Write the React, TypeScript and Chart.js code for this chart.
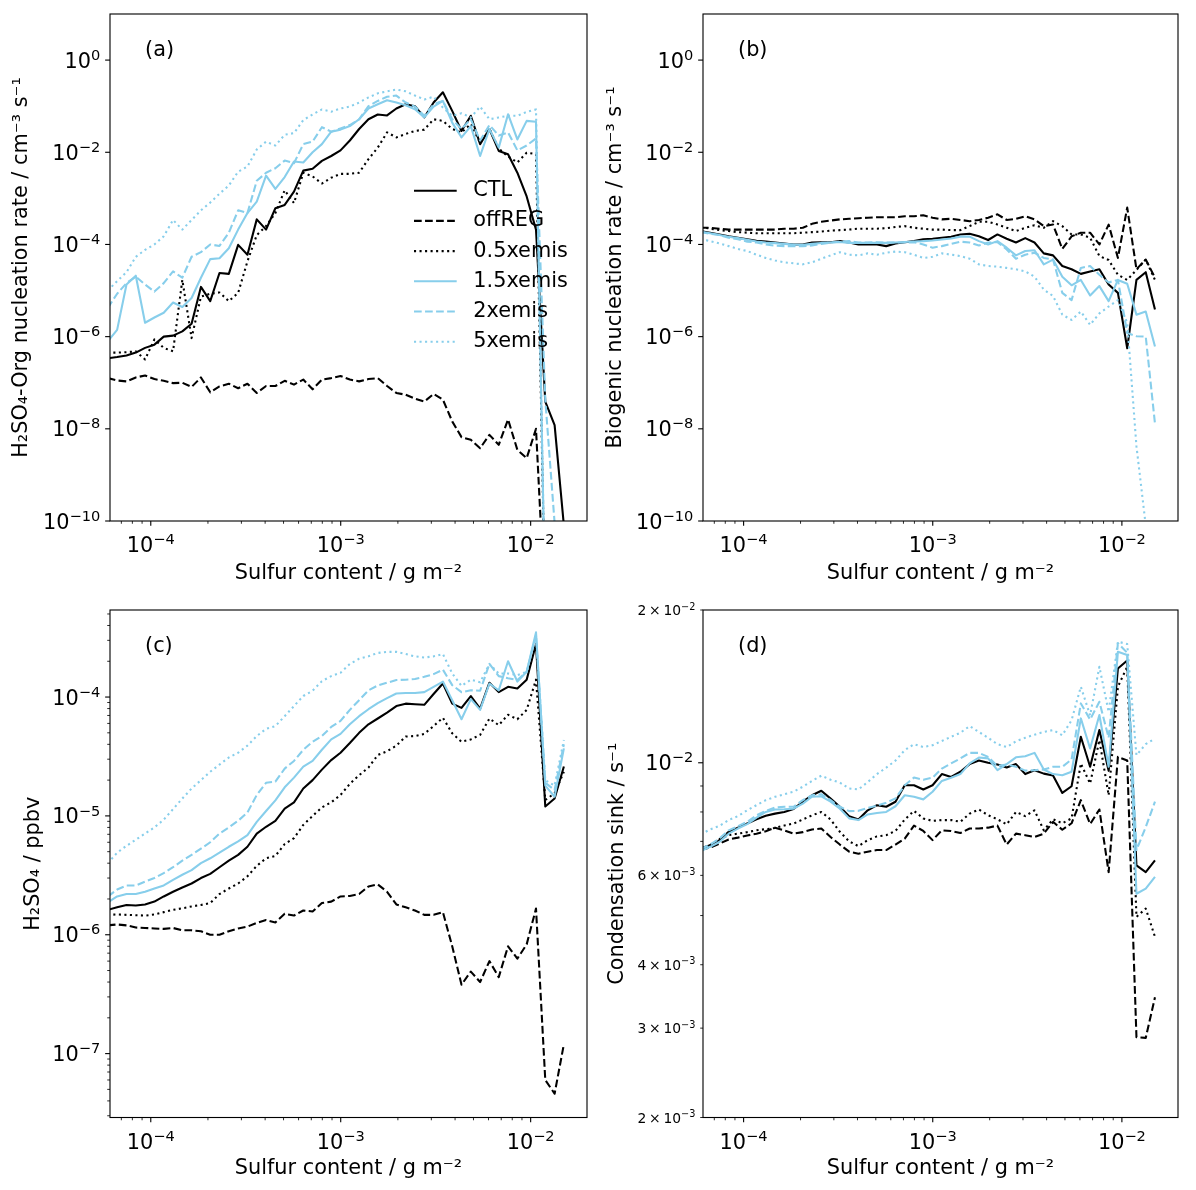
import React, { useEffect, useRef } from 'react';
import { Chart, registerables } from 'chart.js';

Chart.register(...registerables);

// ---------- styling constants ----------
const FONT_FAMILY = "'DejaVu Sans', 'Liberation Sans', sans-serif";
const PX = 100 / 72; // points -> pixels (100 dpi figure)
const FS = 15 * PX;
const FS_SMALL = 10 * PX;
const LW = 1.5 * PX;
const SKYBLUE = '#87CEEB';
const BLACK = '#000000';
const DASHED = [3.7 * LW, 1.6 * LW];
const DOTTED = [1 * LW, 1.65 * LW];

// ---------- data ----------
const seriesNames = ['CTL', 'offREG', '0.5xemis', '1.5xemis', '2xemis', '5xemis'];
const seriesColors = [BLACK, BLACK, BLACK, SKYBLUE, SKYBLUE, SKYBLUE];
const seriesDashes: number[][] = [[], DASHED, DOTTED, [], DASHED, DOTTED];

const sulfurContent = [
  5.94e-5, 6.65e-5, 7.45e-5, 8.34e-5, 9.33e-5, 1.045e-4, 1.17e-4, 1.31e-4, 1.466e-4, 1.64e-4,
  1.837e-4, 2.056e-4, 2.3e-4, 2.576e-4, 2.884e-4, 3.228e-4, 3.614e-4, 4.046e-4, 4.529e-4, 5.07e-4,
  5.675e-4, 6.353e-4, 7.112e-4, 7.96e-4, 8.913e-4, 9.977e-4, 1.117e-3, 1.25e-3, 1.4e-3, 1.567e-3,
  1.754e-3, 1.963e-3, 2.198e-3, 2.46e-3, 2.754e-3, 3.083e-3, 3.451e-3, 3.864e-3, 4.325e-3, 4.842e-3,
  5.42e-3, 6.067e-3, 6.792e-3, 7.603e-3, 8.511e-3, 9.528e-3, 1.067e-2, 1.194e-2, 1.337e-2, 1.496e-2,
];

// (a) H2SO4-Org nucleation rate
const nucA_CTL = [
  3.4e-7, 3.6e-7, 3.9e-7, 4.5e-7, 5.7e-7, 6.7e-7, 1.0e-6, 1.05e-6, 1.3e-6, 1.9e-6,
  1.2e-5, 5.9e-6, 2.4e-5, 2.3e-5, 9.8e-5, 6.0e-5, 3.5e-4, 2.1e-4, 6.1e-4, 7.2e-4,
  1.4e-3, 4.0e-3, 4.4e-3, 6.5e-3, 8.3e-3, 1.1e-2, 1.8e-2, 3.2e-2, 5.2e-2, 6.6e-2,
  6.3e-2, 8.9e-2, 1.1e-1, 1.0e-1, 5.7e-2, 1.2e-1, 2.0e-1, 7.9e-2, 2.9e-2, 6.2e-2,
  1.5e-2, 3.2e-2, 1.07e-2, 9.1e-3, 3.6e-3, 1.1e-3, 2.1e-4, 3.9e-8, 1.2e-8, 8e-11,
];
const nucA_offREG = [
  1.26e-7, 1.12e-7, 1.07e-7, 1.3e-7, 1.44e-7, 1.2e-7, 1.1e-7, 9.8e-8, 1.0e-7, 8.1e-8,
  1.3e-7, 6.2e-8, 8.3e-8, 9.5e-8, 7.6e-8, 9.5e-8, 6.0e-8, 8.5e-8, 8.5e-8, 1.1e-7,
  9.1e-8, 1.17e-7, 7.2e-8, 1.17e-7, 1.26e-7, 1.4e-7, 1.17e-7, 1.07e-7, 1.2e-7, 1.26e-7,
  8.5e-8, 6.0e-8, 5.5e-8, 4.5e-8, 3.9e-8, 5.7e-8, 4.3e-8, 1.45e-8, 6.6e-9, 5.8e-9,
  3.8e-9, 7.4e-9, 4.5e-9, 1.6e-8, 3.5e-9, 2.3e-9, 1.0e-8, 1e-12, 1e-12, 1e-12,
];
const nucA_05x = [
  4.5e-7, 4.5e-7, 4.6e-7, 4.8e-7, 3.2e-7, 8.7e-7, 5.7e-7, 4.8e-7, 1.7e-5, 9.3e-7,
  7.4e-6, 8.5e-6, 9.1e-6, 5.9e-6, 8.9e-6, 4.3e-5, 1.6e-4, 2.5e-4, 4.8e-4, 1.5e-3,
  7.9e-4, 3.6e-3, 3.0e-3, 2.1e-3, 2.8e-3, 3.4e-3, 3.4e-3, 3.6e-3, 7.1e-3, 1.26e-2,
  2.7e-2, 2.1e-2, 2.5e-2, 2.9e-2, 3.1e-2, 5.2e-2, 4.8e-2, 3.2e-2, 2.7e-2, 4.1e-2,
  1.6e-2, 3.2e-2, 1.2e-2, 8.1e-3, 6.0e-3, 9.8e-3, 9.1e-3, 1e-12, 1e-12, 1e-12,
];
const nucA_15x = [
  7.9e-7, 1.4e-6, 1.35e-5, 2.1e-5, 2.0e-6, 2.6e-6, 3.3e-6, 5.5e-6, 4.4e-6, 6.9e-6,
  1.9e-5, 4.8e-5, 5.0e-5, 8.3e-5, 2.1e-4, 4.8e-4, 8.5e-4, 3.1e-3, 1.6e-3, 2.9e-3,
  6.3e-3, 6.0e-3, 1.0e-2, 1.5e-2, 2.8e-2, 3.1e-2, 3.7e-2, 5.2e-2, 8.9e-2, 1.1e-1,
  1.35e-1, 1.2e-1, 1.05e-1, 8.6e-2, 5.7e-2, 9.8e-2, 1.3e-1, 4.4e-2, 2.1e-2, 3.7e-2,
  8.3e-3, 3.2e-2, 1.26e-2, 6.7e-2, 1.9e-2, 4.8e-2, 4.6e-2, 1e-12, 1e-12, 1e-12,
];
const nucA_2x = [
  4.2e-6, 8.5e-6, 1.45e-5, 2.0e-5, 1.35e-5, 9.5e-6, 1.45e-5, 2.6e-5, 1.9e-5, 5.4e-5,
  6.8e-5, 1.0e-4, 9.3e-5, 1.8e-4, 5.5e-4, 4.8e-4, 2.4e-3, 3.6e-3, 4.5e-3, 6.6e-3,
  5.8e-3, 1.5e-2, 1.7e-2, 3.5e-2, 2.8e-2, 3.3e-2, 3.9e-2, 5.2e-2, 1.0e-1, 1.3e-1,
  1.6e-1, 1.7e-1, 1.2e-1, 9.8e-2, 6.2e-2, 1.1e-1, 1.3e-1, 5.2e-2, 3.2e-2, 5.2e-2,
  1.8e-2, 3.9e-2, 2.3e-2, 2.7e-2, 1.1e-2, 1.4e-2, 2.0e-2, 4.3e-8, 9e-11, 1e-12,
];
const nucA_5x = [
  1.0e-5, 1.6e-5, 2.5e-5, 5.4e-5, 7.6e-5, 1.0e-4, 1.5e-4, 3.4e-4, 2.1e-4, 3.4e-4,
  5.5e-4, 8.1e-4, 1.26e-3, 1.9e-3, 3.8e-3, 4.9e-3, 1.15e-2, 1.7e-2, 1.4e-2, 2.4e-2,
  2.6e-2, 5.0e-2, 6.6e-2, 8.5e-2, 7.6e-2, 8.9e-2, 9.8e-2, 1.2e-1, 1.55e-1, 1.9e-1,
  2.1e-1, 2.3e-1, 2.1e-1, 1.7e-1, 1.4e-1, 1.6e-1, 9.3e-2, 6.2e-2, 7.0e-2, 5.7e-2,
  9.8e-2, 5.2e-2, 5.7e-2, 6.2e-2, 6.2e-2, 7.5e-2, 8.5e-2, 1e-12, 1e-12, 1e-12,
];

// (b) Biogenic nucleation rate
const bioB_CTL = [
  1.95e-4, 1.8e-4, 1.65e-4, 1.5e-4, 1.4e-4, 1.3e-4, 1.2e-4, 1.15e-4, 1.1e-4, 1.05e-4,
  1.0e-4, 1.0e-4, 1.1e-4, 1.12e-4, 1.12e-4, 1.18e-4, 1.1e-4, 1.0e-4, 1.0e-4, 1.0e-4,
  9.2e-5, 1.05e-4, 1.12e-4, 1.18e-4, 1.3e-4, 1.33e-4, 1.4e-4, 1.47e-4, 1.65e-4, 1.7e-4,
  1.5e-4, 1.25e-4, 1.65e-4, 1.33e-4, 1.1e-4, 1.37e-4, 1.1e-4, 6.4e-5, 5.8e-5, 3.4e-5,
  2.9e-5, 2.3e-5, 2.6e-5, 2.9e-5, 1.35e-5, 8.9e-6, 5.6e-7, 1.7e-5, 2.5e-5, 3.9e-6,
];
const bioB_offREG = [
  2.3e-4, 2.3e-4, 2.2e-4, 2.1e-4, 2.1e-4, 2.1e-4, 2.1e-4, 2.1e-4, 2.1e-4, 2.2e-4,
  2.2e-4, 2.3e-4, 2.8e-4, 3.1e-4, 3.3e-4, 3.5e-4, 3.6e-4, 3.7e-4, 3.8e-4, 3.9e-4,
  3.9e-4, 3.9e-4, 4.1e-4, 4.1e-4, 4.3e-4, 3.8e-4, 3.5e-4, 3.6e-4, 3.4e-4, 3.2e-4,
  3.4e-4, 3.8e-4, 4.5e-4, 3.4e-4, 3.6e-4, 4.1e-4, 3.5e-4, 2.5e-4, 2.7e-4, 8.0e-5,
  1.5e-4, 1.8e-4, 1.8e-4, 1.0e-4, 2.7e-4, 5.1e-5, 6.3e-4, 2.9e-5, 4.7e-5, 1.9e-5,
];
const bioB_05x = [
  2.4e-4, 2.2e-4, 2.05e-4, 1.95e-4, 1.85e-4, 1.8e-4, 1.75e-4, 1.75e-4, 1.75e-4, 1.75e-4,
  1.75e-4, 1.8e-4, 1.85e-4, 1.9e-4, 2.0e-4, 2.05e-4, 2.1e-4, 2.2e-4, 2.2e-4, 2.2e-4,
  2.25e-4, 2.4e-4, 2.5e-4, 2.3e-4, 2.2e-4, 2.1e-4, 2.1e-4, 2.05e-4, 2.05e-4, 2.5e-4,
  3.1e-4, 3.1e-4, 2.7e-4, 2.3e-4, 1.95e-4, 2.3e-4, 2.6e-4, 2.3e-4, 3.2e-4, 2.5e-4,
  1.65e-4, 1.65e-4, 1.4e-4, 5.6e-5, 4.6e-5, 2.2e-5, 1.7e-5, 2.8e-5, 4.7e-5, 1.7e-5,
];
const bioB_15x = [
  1.9e-4, 1.75e-4, 1.6e-4, 1.47e-4, 1.37e-4, 1.27e-4, 1.16e-4, 1.1e-4, 1.07e-4, 1.03e-4,
  1.0e-4, 9.8e-5, 1.03e-4, 1.08e-4, 1.1e-4, 1.13e-4, 1.08e-4, 1.08e-4, 1.08e-4, 1.08e-4,
  1.08e-4, 1.1e-4, 1.13e-4, 1.16e-4, 1.18e-4, 1.22e-4, 1.28e-4, 1.35e-4, 1.48e-4, 1.48e-4,
  1.18e-4, 1.0e-4, 1.18e-4, 8.5e-5, 5.8e-5, 7.2e-5, 7.5e-5, 3.7e-5, 4.7e-5, 2.0e-5,
  1.3e-5, 1.7e-5, 7.8e-6, 1.25e-5, 5.9e-6, 1.7e-5, 1.4e-5, 3.0e-6, 3.5e-6, 6.1e-7,
];
const bioB_2x = [
  1.85e-4, 1.7e-4, 1.6e-4, 1.4e-4, 1.3e-4, 1.15e-4, 1.1e-4, 1.0e-4, 9.4e-5, 9.2e-5,
  9.2e-5, 9.2e-5, 9.5e-5, 1.03e-4, 1.1e-4, 1.15e-4, 1.18e-4, 1.1e-4, 1.1e-4, 1.12e-4,
  1.1e-4, 1.1e-4, 1.1e-4, 1.12e-4, 1.0e-4, 8.5e-5, 9.2e-5, 1.03e-4, 1.15e-4, 1.1e-4,
  9.5e-5, 1.1e-4, 1.12e-4, 7.8e-5, 4.9e-5, 6.0e-5, 6.6e-5, 5.1e-5, 4.7e-5, 8.9e-6,
  6.2e-6, 3.1e-5, 3.4e-5, 2.2e-5, 1.5e-5, 1.7e-5, 1.2e-6, 1.02e-6, 1.0e-6, 1.3e-8,
];
const bioB_5x = [
  1.33e-4, 1.18e-4, 1.05e-4, 9.2e-5, 8.0e-5, 7.2e-5, 6.0e-5, 5.1e-5, 4.5e-5, 4.1e-5,
  3.9e-5, 3.7e-5, 4.1e-5, 4.9e-5, 5.8e-5, 6.8e-5, 6.0e-5, 5.8e-5, 6.4e-5, 6.0e-5,
  6.6e-5, 7.0e-5, 6.8e-5, 6.0e-5, 5.1e-5, 5.4e-5, 6.4e-5, 6.0e-5, 5.6e-5, 4.9e-5,
  3.7e-5, 3.4e-5, 3.3e-5, 3.1e-5, 2.9e-5, 2.6e-5, 2.0e-5, 1.05e-5, 7.6e-6, 3.0e-6,
  2.3e-6, 3.5e-6, 1.8e-6, 3.2e-6, 4.5e-6, 6.2e-6, 2.0e-6, 4.2e-9, 8e-11, 1e-12,
];

// (c) H2SO4 mixing ratio
const h2so4C_CTL = [
  1.62e-6, 1.7e-6, 1.78e-6, 1.76e-6, 1.8e-6, 1.9e-6, 2.1e-6, 2.3e-6, 2.5e-6, 2.7e-6,
  3.0e-6, 3.25e-6, 3.7e-6, 4.2e-6, 4.7e-6, 5.5e-6, 7.1e-6, 8.1e-6, 9.1e-6, 1.15e-5,
  1.3e-5, 1.7e-5, 2.0e-5, 2.45e-5, 2.95e-5, 3.4e-5, 4.1e-5, 5.0e-5, 5.9e-5, 6.6e-5,
  7.4e-5, 8.4e-5, 8.8e-5, 8.7e-5, 8.6e-5, 1.06e-4, 1.3e-4, 8.8e-5, 8.1e-5, 1.02e-4,
  8.0e-5, 1.32e-4, 1.1e-4, 1.22e-4, 1.18e-4, 1.4e-4, 2.8e-4, 1.2e-5, 1.4e-5, 2.6e-5,
];
const h2so4C_offREG = [
  1.2e-6, 1.22e-6, 1.2e-6, 1.15e-6, 1.14e-6, 1.13e-6, 1.12e-6, 1.14e-6, 1.09e-6, 1.09e-6,
  1.07e-6, 1.0e-6, 1.0e-6, 1.07e-6, 1.13e-6, 1.17e-6, 1.26e-6, 1.33e-6, 1.27e-6, 1.5e-6,
  1.45e-6, 1.6e-6, 1.57e-6, 1.85e-6, 1.9e-6, 2.1e-6, 2.12e-6, 2.2e-6, 2.55e-6, 2.65e-6,
  2.3e-6, 1.8e-6, 1.7e-6, 1.6e-6, 1.47e-6, 1.47e-6, 1.55e-6, 8.0e-7, 3.8e-7, 4.9e-7,
  4.0e-7, 6.0e-7, 4.4e-7, 8.0e-7, 6.3e-7, 8.3e-7, 1.66e-6, 6.0e-8, 4.6e-8, 1.2e-7,
];
const h2so4C_05x = [
  1.47e-6, 1.48e-6, 1.47e-6, 1.46e-6, 1.45e-6, 1.48e-6, 1.55e-6, 1.62e-6, 1.67e-6, 1.73e-6,
  1.78e-6, 1.85e-6, 2.2e-6, 2.45e-6, 2.7e-6, 3.1e-6, 3.8e-6, 4.4e-6, 4.6e-6, 5.8e-6,
  6.5e-6, 8.4e-6, 1.0e-5, 1.18e-5, 1.3e-5, 1.5e-5, 1.86e-5, 2.2e-5, 2.55e-5, 3.25e-5,
  3.5e-5, 3.9e-5, 4.65e-5, 4.7e-5, 4.9e-5, 5.7e-5, 6.7e-5, 4.95e-5, 4.2e-5, 4.4e-5,
  4.8e-5, 6.6e-5, 5.8e-5, 7.1e-5, 6.5e-5, 7.8e-5, 1.4e-4, 1.36e-5, 1.55e-5, 2.35e-5,
];
const h2so4C_15x = [
  1.87e-6, 2.1e-6, 2.2e-6, 2.2e-6, 2.3e-6, 2.45e-6, 2.6e-6, 2.9e-6, 3.2e-6, 3.5e-6,
  4.0e-6, 4.4e-6, 4.9e-6, 5.5e-6, 6.1e-6, 6.9e-6, 8.9e-6, 1.1e-5, 1.35e-5, 1.74e-5,
  2.1e-5, 2.6e-5, 2.9e-5, 3.6e-5, 4.4e-5, 4.9e-5, 5.9e-5, 6.9e-5, 7.9e-5, 8.9e-5,
  9.8e-5, 1.07e-4, 1.08e-4, 1.08e-4, 1.1e-4, 1.22e-4, 1.35e-4, 9.4e-5, 6.5e-5, 9.6e-5,
  7.8e-5, 1.3e-4, 1.14e-4, 2.0e-4, 1.35e-4, 1.63e-4, 3.5e-4, 1.8e-5, 1.45e-5, 3.7e-5,
];
const h2so4C_2x = [
  2.1e-6, 2.4e-6, 2.6e-6, 2.6e-6, 2.8e-6, 3.0e-6, 3.3e-6, 3.7e-6, 4.2e-6, 4.7e-6,
  5.3e-6, 6.0e-6, 7.1e-6, 8.0e-6, 9.1e-6, 1.07e-5, 1.5e-5, 1.9e-5, 1.94e-5, 2.5e-5,
  2.9e-5, 3.6e-5, 4.2e-5, 4.7e-5, 5.6e-5, 6.3e-5, 7.8e-5, 9.4e-5, 1.14e-4, 1.25e-4,
  1.32e-4, 1.39e-4, 1.4e-4, 1.42e-4, 1.48e-4, 1.56e-4, 1.7e-4, 1.26e-4, 1.1e-4, 1.14e-4,
  1.13e-4, 1.9e-4, 1.5e-4, 1.44e-4, 1.39e-4, 1.63e-4, 3.3e-4, 1.9e-5, 1.65e-5, 4.0e-5,
];
const h2so4C_5x = [
  4.0e-6, 4.9e-6, 5.6e-6, 6.3e-6, 7.1e-6, 8.0e-6, 9.3e-6, 1.14e-5, 1.4e-5, 1.7e-5,
  2.0e-5, 2.35e-5, 2.7e-5, 3.1e-5, 3.4e-5, 3.9e-5, 4.7e-5, 5.4e-5, 5.7e-5, 6.9e-5,
  8.4e-5, 1.02e-4, 1.13e-4, 1.36e-4, 1.5e-4, 1.6e-4, 1.9e-4, 2.1e-4, 2.2e-4, 2.35e-4,
  2.4e-4, 2.4e-4, 2.3e-4, 2.2e-4, 2.15e-4, 2.2e-4, 2.3e-4, 1.58e-4, 1.24e-4, 1.4e-4,
  1.33e-4, 1.9e-4, 1.58e-4, 1.58e-4, 1.53e-4, 1.63e-4, 3.3e-4, 2.0e-5, 1.8e-5, 4.35e-5,
];

// (d) Condensation sink
const csD_CTL = [
  0.00678, 0.00688, 0.00704, 0.00731, 0.00745, 0.00759, 0.00774, 0.00786, 0.00794, 0.0080,
  0.00811, 0.00838, 0.00863, 0.00881, 0.0085, 0.00819, 0.00785, 0.00773, 0.00806, 0.00825,
  0.00819, 0.00838, 0.00903, 0.00903, 0.00886, 0.00903, 0.0095, 0.00938, 0.0096, 0.00994,
  0.0101, 0.0100, 0.00992, 0.00979, 0.00994, 0.0095, 0.00967, 0.00952, 0.00944, 0.00872,
  0.00899, 0.01125, 0.00982, 0.0116, 0.00964, 0.01534, 0.0159, 0.00628, 0.00609, 0.00642,
];
const csD_offREG = [
  0.00675, 0.0068, 0.00693, 0.00706, 0.00712, 0.00719, 0.00725, 0.00733, 0.00745, 0.00736,
  0.00725, 0.0073, 0.00739, 0.00742, 0.00714, 0.0069, 0.00668, 0.00662, 0.00668, 0.00673,
  0.00673, 0.0069, 0.00709, 0.00752, 0.00734, 0.00704, 0.00736, 0.00734, 0.00727, 0.00742,
  0.00742, 0.00745, 0.00752, 0.0069, 0.00725, 0.0072, 0.00714, 0.00725, 0.00765, 0.00738,
  0.0076, 0.00844, 0.00757, 0.00809, 0.00609, 0.01027, 0.0101, 0.00288, 0.00287, 0.00345,
];
const csD_05x = [
  0.00668, 0.00688, 0.00707, 0.0072, 0.00725, 0.0073, 0.00736, 0.0074, 0.00744, 0.00752,
  0.00759, 0.00773, 0.00788, 0.008, 0.00773, 0.00731, 0.007, 0.00685, 0.00704, 0.00716,
  0.0072, 0.00734, 0.00773, 0.00804, 0.00777, 0.00768, 0.00771, 0.00771, 0.00765, 0.00794,
  0.00809, 0.00788, 0.00774, 0.00756, 0.008, 0.00785, 0.00806, 0.00736, 0.00774, 0.0076,
  0.00777, 0.00997, 0.0091, 0.01108, 0.00863, 0.01412, 0.01546, 0.00497, 0.00516, 0.00454,
];
const csD_15x = [
  0.0067, 0.00683, 0.00698, 0.00725, 0.00742, 0.00757, 0.0078, 0.008, 0.00809, 0.0081,
  0.00812, 0.00831, 0.00857, 0.00859, 0.00838, 0.00812, 0.00777, 0.00771, 0.00791, 0.00796,
  0.008, 0.00821, 0.00863, 0.00857, 0.00847, 0.00877, 0.00921, 0.00934, 0.0095, 0.00997,
  0.01024, 0.0102, 0.00967, 0.00994, 0.01025, 0.0103, 0.01046, 0.0097, 0.0095, 0.00945,
  0.0096, 0.01223, 0.01067, 0.01242, 0.00982, 0.01655, 0.0163, 0.00552, 0.00565, 0.00596,
];
const csD_2x = [
  0.00676, 0.0069, 0.00709, 0.00736, 0.0075, 0.00765, 0.00788, 0.00804, 0.00816, 0.00819,
  0.00819, 0.00844, 0.00863, 0.00867, 0.00844, 0.00819, 0.00803, 0.00804, 0.00815, 0.00823,
  0.00834, 0.00851, 0.00903, 0.00935, 0.00926, 0.00935, 0.00974, 0.00997, 0.0102, 0.01046,
  0.01046, 0.01027, 0.00985, 0.00992, 0.00982, 0.00965, 0.00967, 0.0097, 0.00982, 0.00982,
  0.01015, 0.01309, 0.01217, 0.01319, 0.0112, 0.0172, 0.01647, 0.00673, 0.00747, 0.00838,
];
const csD_5x = [
  0.00723, 0.00739, 0.00751, 0.00771, 0.00785, 0.00806, 0.00825, 0.00844, 0.00857, 0.00867,
  0.00877, 0.00897, 0.00921, 0.00943, 0.00926, 0.00914, 0.0089, 0.00886, 0.00916, 0.0095,
  0.00978, 0.0101, 0.01059, 0.01088, 0.01074, 0.01083, 0.01104, 0.01125, 0.01146, 0.01181,
  0.0115, 0.0112, 0.01088, 0.01074, 0.01102, 0.0112, 0.01136, 0.0115, 0.0116, 0.01133,
  0.01213, 0.01412, 0.0124, 0.01546, 0.0126, 0.01732, 0.01714, 0.01035, 0.01088, 0.01116,
];

// ---------- tick values ----------
const xMajorTicks = [1e-4, 1e-3, 1e-2];
const xMinorTicks = [
  7e-5, 8e-5, 9e-5, 2e-4, 3e-4, 4e-4, 5e-4, 6e-4, 7e-4, 8e-4, 9e-4,
  2e-3, 3e-3, 4e-3, 5e-3, 6e-3, 7e-3, 8e-3, 9e-3,
];
const abMajorTicks = [1e-10, 1e-8, 1e-6, 1e-4, 1e-2, 1e0];
const cMajorTicks = [1e-7, 1e-6, 1e-5, 1e-4];
const cMinorTicks = [
  3e-8, 4e-8, 5e-8, 6e-8, 7e-8, 8e-8, 9e-8,
  2e-7, 3e-7, 4e-7, 5e-7, 6e-7, 7e-7, 8e-7, 9e-7,
  2e-6, 3e-6, 4e-6, 5e-6, 6e-6, 7e-6, 8e-6, 9e-6,
  2e-5, 3e-5, 4e-5, 5e-5, 6e-5, 7e-5, 8e-5, 9e-5,
  2e-4, 3e-4, 4e-4, 5e-4,
];
const dMajorTicks = [1e-2];
const dMinorLabelledTicks = [2e-3, 3e-3, 4e-3, 6e-3, 2e-2];
const dMinorTicks = [5e-3, 7e-3, 8e-3, 9e-3];

// ---------- helpers ----------
type TickSpec = { value: number; major: boolean; label: boolean };

function tickSpecs(major: number[], minorLabelled: number[], minor: number[]): TickSpec[] {
  return [
    ...major.map((v) => ({ value: v, major: true, label: true })),
    ...minorLabelled.map((v) => ({ value: v, major: false, label: true })),
    ...minor.map((v) => ({ value: v, major: false, label: false })),
  ].sort((a, b) => a.value - b.value);
}

const MAJOR_LEN = 3.5 * PX;
const MINOR_LEN = 2 * PX;
const TICK_PAD = 3.5 * PX;
const SUP_SCALE = 0.7;
const SUP_RAISE = 0.383; // superscript baseline shift, in em of the base font
const DIGIT_MID = 0.364; // half the digit height, in em

// Draws "10^e" (or "m × 10^e") with a real superscript exponent, mathtext style.
function drawPow10(ctx: any, v: number, x: number, baseline: number, size: number, align: 'right' | 'center') {
  const e = Math.floor(Math.log10(v) + 1e-9);
  const m = Math.round(v / Math.pow(10, e));
  const base = (m === 1 ? '' : `${m}\u2009\u00d7\u2009`) + '10';
  const expo = (e < 0 ? '\u2212' : '') + String(Math.abs(e));
  const baseFont = `${size}px ${FONT_FAMILY}`;
  const expFont = `${size * SUP_SCALE}px ${FONT_FAMILY}`;
  ctx.font = baseFont;
  const wb = ctx.measureText(base).width;
  ctx.font = expFont;
  const we = ctx.measureText(expo).width;
  const total = wb + we;
  const x0 = align === 'right' ? x - total : x - total / 2;
  ctx.textAlign = 'left';
  ctx.textBaseline = 'alphabetic';
  ctx.fillStyle = '#000';
  ctx.font = baseFont;
  ctx.fillText(base, x0, baseline);
  ctx.font = expFont;
  ctx.fillText(expo, x0 + wb, baseline - SUP_RAISE * size);
}

const decorPlugin = {
  id: 'decor',
  afterDraw(chart: any, _args: any, opts: any) {
    const { ctx, chartArea: ca } = chart;
    const xs = chart.scales.x;
    const ys = chart.scales.y;
    ctx.save();
    ctx.strokeStyle = '#000';
    ctx.setLineDash([]);
    // x ticks + labels
    for (const t of xs.ticks) {
      const px = xs.getPixelForValue(t.value);
      if (px < ca.left - 0.5 || px > ca.right + 0.5) continue;
      ctx.lineWidth = t.major ? 0.8 * PX : 0.6 * PX;
      ctx.beginPath();
      ctx.moveTo(px, ca.bottom);
      ctx.lineTo(px, ca.bottom + (t.major ? MAJOR_LEN : MINOR_LEN));
      ctx.stroke();
      if (t.showLabel) {
        drawPow10(ctx, t.value, px, ca.bottom + 23.5 + DIGIT_MID * FS, FS, 'center');
      }
    }
    // y ticks + labels
    for (const t of ys.ticks) {
      const py = ys.getPixelForValue(t.value);
      if (py < ca.top - 0.5 || py > ca.bottom + 0.5) continue;
      const len = t.major ? MAJOR_LEN : MINOR_LEN;
      ctx.lineWidth = t.major ? 0.8 * PX : 0.6 * PX;
      ctx.beginPath();
      ctx.moveTo(ca.left, py);
      ctx.lineTo(ca.left - len, py);
      ctx.stroke();
      if (t.showLabel) {
        const size = t.small ? FS_SMALL : FS;
        drawPow10(ctx, t.value, ca.left - len - TICK_PAD, py + DIGIT_MID * size, size, 'right');
      }
    }
    // frame
    ctx.strokeStyle = '#000';
    ctx.lineWidth = 0.8 * PX;
    ctx.strokeRect(ca.left, ca.top, ca.right - ca.left, ca.bottom - ca.top);
    // panel label
    ctx.fillStyle = '#000';
    ctx.font = `${FS}px ${FONT_FAMILY}`;
    ctx.textAlign = 'left';
    ctx.textBaseline = 'middle';
    ctx.fillText(opts.label, ca.left + 35, ca.top + 36.5);
    // legend
    if (opts.legend) {
      const x0 = ca.left + 304;
      const x1 = ca.left + 346.7;
      const tx = ca.left + 363.3;
      seriesNames.forEach((name, k) => {
        const y = ca.top + 176.7 + k * 30.2;
        ctx.strokeStyle = seriesColors[k];
        ctx.lineWidth = LW;
        ctx.lineCap = 'butt';
        ctx.setLineDash(seriesDashes[k]);
        ctx.beginPath();
        ctx.moveTo(x0, y);
        ctx.lineTo(x1, y);
        ctx.stroke();
        ctx.setLineDash([]);
        ctx.fillStyle = '#000';
        ctx.font = `${FS}px ${FONT_FAMILY}`;
        ctx.textAlign = 'left';
        ctx.textBaseline = 'middle';
        ctx.fillText(name, tx, y);
      });
    }
    ctx.restore();
  },
};

function logScale(opts: {
  axis: 'x' | 'y';
  min: number;
  max: number;
  ticks: TickSpec[];
  size: number;
  title: string;
  titlePad: number;
}) {
  const isX = opts.axis === 'x';
  return {
    type: 'logarithmic',
    position: isX ? 'bottom' : 'left',
    min: opts.min,
    max: opts.max,
    afterBuildTicks: (scale: any) => {
      scale.ticks = opts.ticks
        .filter((s) => s.value >= opts.min * 0.999 && s.value <= opts.max * 1.001)
        .map((s) => ({ value: s.value, major: s.major, showLabel: s.label, small: !s.major }));
    },
    afterFit: (scale: any) => {
      if (isX) scale.height = opts.size;
      else scale.width = opts.size;
      scale.paddingTop = 0;
      scale.paddingBottom = 0;
      scale.paddingLeft = 0;
      scale.paddingRight = 0;
    },
    grid: { display: false, drawTicks: false },
    border: { display: false },
    // tick labels are drawn by the decor plugin (with true superscripts)
    ticks: { display: false, autoSkip: false },
    title: {
      display: true,
      text: opts.title,
      color: '#000',
      font: { family: FONT_FAMILY, size: FS },
      padding: isX ? { top: 0, bottom: opts.titlePad } : { top: opts.titlePad, bottom: 0 },
    },
  };
}

const X_MIN = 6.1e-5;
const X_MAX = 1.98e-2;
const X_TITLE = 'Sulfur content / g m⁻²';
const xTickSpecs = tickSpecs(xMajorTicks, [], xMinorTicks);

const PANEL_W = 598;
const PANEL_H = 595;

const PANELS = [
  {
    key: 'a', left: 0, top: 0, label: '(a)', legend: true,
    series: [nucA_CTL, nucA_offREG, nucA_05x, nucA_15x, nucA_2x, nucA_5x],
    yMin: 1e-10, yMax: 10, yTicks: tickSpecs(abMajorTicks, [], []),
    yTitle: 'H₂SO₄-Org nucleation rate / cm⁻³ s⁻¹', yTitlePad: 9.5,
    yAxisWidth: 110, padTop: 14, padRight: 11, xAxisHeight: 74,
  },
  {
    key: 'b', left: 598, top: 0, label: '(b)', legend: false,
    series: [bioB_CTL, bioB_offREG, bioB_05x, bioB_15x, bioB_2x, bioB_5x],
    yMin: 1e-10, yMax: 10, yTicks: tickSpecs(abMajorTicks, [], []),
    yTitle: 'Biogenic nucleation rate / cm⁻³ s⁻¹', yTitlePad: 5.5,
    yAxisWidth: 105, padTop: 14, padRight: 18, xAxisHeight: 74,
  },
  {
    key: 'c', left: 0, top: 595, label: '(c)', legend: false,
    series: [h2so4C_CTL, h2so4C_offREG, h2so4C_05x, h2so4C_15x, h2so4C_2x, h2so4C_5x],
    yMin: 2.9e-8, yMax: 5.4e-4, yTicks: tickSpecs(cMajorTicks, [], cMinorTicks),
    yTitle: 'H₂SO₄ / ppbv', yTitlePad: 21,
    yAxisWidth: 110, padTop: 15, padRight: 11, xAxisHeight: 72.5,
  },
  {
    key: 'd', left: 598, top: 595, label: '(d)', legend: false,
    series: [csD_CTL, csD_offREG, csD_05x, csD_15x, csD_2x, csD_5x],
    yMin: 2e-3, yMax: 2e-2, yTicks: tickSpecs(dMajorTicks, dMinorLabelledTicks, dMinorTicks),
    yTitle: 'Condensation sink / s⁻¹', yTitlePad: 7,
    yAxisWidth: 105, padTop: 15, padRight: 18, xAxisHeight: 72.5,
  },
];

function buildConfig(p: any): any {
  const datasets = p.series.map((vals: number[], k: number) => ({
    label: seriesNames[k],
    data: sulfurContent.map((x, i) => ({ x, y: vals[i] })),
    borderColor: seriesColors[k],
    backgroundColor: seriesColors[k],
    borderWidth: LW,
    borderDash: seriesDashes[k],
    borderCapStyle: 'butt',
    borderJoinStyle: 'round',
    pointRadius: 0,
    pointHoverRadius: 0,
    fill: false,
    tension: 0,
    clip: 0,
    order: seriesNames.length - k,
  }));
  return {
    type: 'line',
    data: { datasets },
    plugins: [decorPlugin],
    options: {
      animation: false,
      responsive: true,
      maintainAspectRatio: false,
      events: [],
      layout: {
        padding: { left: 0, top: p.padTop, right: p.padRight, bottom: 0 },
        autoPadding: false,
      },
      plugins: {
        legend: { display: false },
        tooltip: { enabled: false },
        decor: { label: p.label, legend: p.legend },
      },
      scales: {
        x: logScale({
          axis: 'x', min: X_MIN, max: X_MAX, ticks: xTickSpecs, size: p.xAxisHeight,
          title: X_TITLE, titlePad: 8.5,
        }),
        y: logScale({
          axis: 'y', min: p.yMin, max: p.yMax, ticks: p.yTicks, size: p.yAxisWidth,
          title: p.yTitle, titlePad: p.yTitlePad,
        }),
      },
    },
  };
}

export default function App() {
  const r0 = useRef<HTMLCanvasElement>(null);
  const r1 = useRef<HTMLCanvasElement>(null);
  const r2 = useRef<HTMLCanvasElement>(null);
  const r3 = useRef<HTMLCanvasElement>(null);
  const refs = [r0, r1, r2, r3];

  useEffect(() => {
    const charts = PANELS.map((p, i) => new Chart(refs[i].current as HTMLCanvasElement, buildConfig(p)));
    return () => charts.forEach((c) => c.destroy());
  }, []);

  return (
    <div style={{ position: 'absolute', left: 0, top: 0, width: 1196, height: 1190, background: '#ffffff' }}>
      {PANELS.map((p, i) => (
        <div
          key={p.key}
          style={{ position: 'absolute', left: p.left, top: p.top, width: PANEL_W, height: PANEL_H }}
        >
          <canvas ref={refs[i]} />
        </div>
      ))}
    </div>
  );
}
